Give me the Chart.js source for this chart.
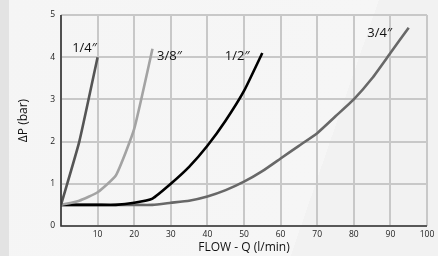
<!DOCTYPE html>
<html>
<head>
<meta charset="utf-8">
<script src="https://cdn.jsdelivr.net/npm/chart.js@4"></script>
<style>
    html, body { margin: 0; padding: 0; }
    body {
        width: 438px; height: 256px; overflow: hidden;
        background: linear-gradient(to right, #e3e3e3 0, #e3e3e3 9px, transparent 9px),
                    linear-gradient(109deg, #f5f5f5 0, #f6f6f6 72%, #f2f2f2 72%, #f2f2f2 100%);
    }
    #wrap { position: relative; width: 438px; height: 256px; }
</style>
</head>
<body>
<div id="wrap"><canvas id="chart"></canvas></div>
<script>
var flow = [0, 5, 10, 15, 20, 25, 30, 35, 40, 45, 50, 55, 60, 65, 70, 75, 80, 85, 90, 95];
var quarter = [0.5, 2.0, 4.0];
var threeEighth = [0.5, 0.6, 0.8, 1.2, 2.3, 4.2];
var half = [0.5, 0.5, 0.5, 0.5, 0.55, 0.65, 1.0, 1.4, 1.9, 2.5, 3.2, 4.1];
var threeQuarter = [0.5, 0.5, 0.5, 0.5, 0.5, 0.5, 0.55, 0.6, 0.7, 0.85, 1.05, 1.3, 1.6, 1.9, 2.2, 2.6, 3.0, 3.5, 4.1, 4.7];
var seriesNames = ['1/4\u2033', '3/8\u2033', '1/2\u2033', '3/4\u2033'];
var xTicks = [0, 10, 20, 30, 40, 50, 60, 70, 80, 90, 100];
var yTicks = [0, 1, 2, 3, 4, 5];

function toPoints(values) {
    return values.map(function (v, i) {
        return { x: flow[i], y: v };
    });
}

function makeSet(name, values, color) {
    return {
        label: name,
        data: toPoints(values),
        borderColor: color,
        backgroundColor: color,
        borderWidth: 2.6,
        pointRadius: 0,
        fill: false,
        tension: 0.15
    };
}

// pixel nudges for the curve labels, relative to each curve's last point
var labelOffsets = [[-13, -9], [17, 8], [-25, 3], [-29, 6]];

var curveLabels = {
    id: 'curveLabels',
    afterDatasetsDraw: function (chart) {
        var ctx = chart.ctx;
        ctx.save();
        ctx.font = '13px "Open Sans", sans-serif';
        ctx.fillStyle = '#111';
        ctx.textAlign = 'center';
        ctx.textBaseline = 'middle';
        chart.data.datasets.forEach(function (ds, i) {
            var last = ds.data[ds.data.length - 1];
            var px = chart.scales.x.getPixelForValue(last.x) + labelOffsets[i][0];
            var py = chart.scales.y.getPixelForValue(last.y) + labelOffsets[i][1];
            ctx.fillText(ds.label, px, py);
        });
        ctx.restore();
    }
};

function drawGrid(chart, color) {
    var a = chart.chartArea, ctx = chart.ctx;
    var xs = chart.scales.x, ys = chart.scales.y;
    ctx.save();
    ctx.fillStyle = color;
    xTicks.forEach(function (v) {
        var px = xs.getPixelForValue(v);
        ctx.fillRect(Math.round(px) - 1, a.top, 2, a.bottom - a.top);
    });
    yTicks.forEach(function (v) {
        var py = ys.getPixelForValue(v);
        ctx.fillRect(a.left, Math.round(py) - 1, a.right - a.left, 2);
    });
    ctx.restore();
}

var gridAndAxes = {
    id: 'gridAndAxes',
    beforeDatasetsDraw: function (chart) {
        drawGrid(chart, '#c8c8c8');
    },
    afterDatasetsDraw: function (chart) {
        var a = chart.chartArea, ctx = chart.ctx;
        ctx.save();
        ctx.strokeStyle = '#333';
        ctx.lineWidth = 1.6;
        ctx.beginPath();
        ctx.moveTo(a.left, a.top);
        ctx.lineTo(a.left, a.bottom);
        ctx.lineTo(a.right, a.bottom);
        ctx.stroke();
        ctx.restore();
    }
};

var ctx = document.getElementById('chart').getContext('2d');
var myChart = new Chart(ctx, {
    type: 'line',
    data: {
        datasets: [
            makeSet(seriesNames[0], quarter, '#555555'),
            makeSet(seriesNames[1], threeEighth, '#a3a3a3'),
            makeSet(seriesNames[2], half, '#000000'),
            makeSet(seriesNames[3], threeQuarter, '#686868')
        ]
    },
    options: {
        responsive: true,
        maintainAspectRatio: false,
        animation: false,
        layout: { padding: { left: 0, right: 11, top: 15, bottom: 0 } },
        plugins: {
            legend: { display: false },
            tooltip: { enabled: false }
        },
        scales: {
            x: {
                type: 'linear',
                min: 0,
                max: 100,
                afterFit: function (s) { s.height = 30; },
                afterBuildTicks: function (s) {
                    s.ticks = xTicks.map(function (v) { return { value: v }; });
                },
                grid: { display: false, drawTicks: false },
                border: { display: false },
                ticks: {
                    padding: 3,
                    color: '#222',
                    font: { family: '"Open Sans", sans-serif', size: 8.5 },
                    maxRotation: 0,
                    callback: function (v) { return v === 0 ? '' : v; }
                },
                title: {
                    display: true,
                    text: 'FLOW - Q (l/min)',
                    color: '#111',
                    font: { family: '"Open Sans", sans-serif', size: 12 },
                    padding: { top: 0, bottom: 1 }
                }
            },
            y: {
                min: 0,
                max: 5,
                afterFit: function (s) { s.width = 61; },
                afterBuildTicks: function (s) {
                    s.ticks = yTicks.map(function (v) { return { value: v }; });
                },
                grid: { display: false, drawTicks: false },
                border: { display: false },
                ticks: {
                    padding: 6,
                    color: '#222',
                    font: { family: '"Open Sans", sans-serif', size: 8.5 },
                    callback: function (v) { return v; }
                },
                title: {
                    display: true,
                    text: '\u0394P (bar)',
                    color: '#111',
                    font: { family: '"Open Sans", sans-serif', size: 12 },
                    padding: { top: 16, bottom: 0 }
                }
            }
        }
    },
    plugins: [gridAndAxes, curveLabels]
});
</script>
</body>
</html>
